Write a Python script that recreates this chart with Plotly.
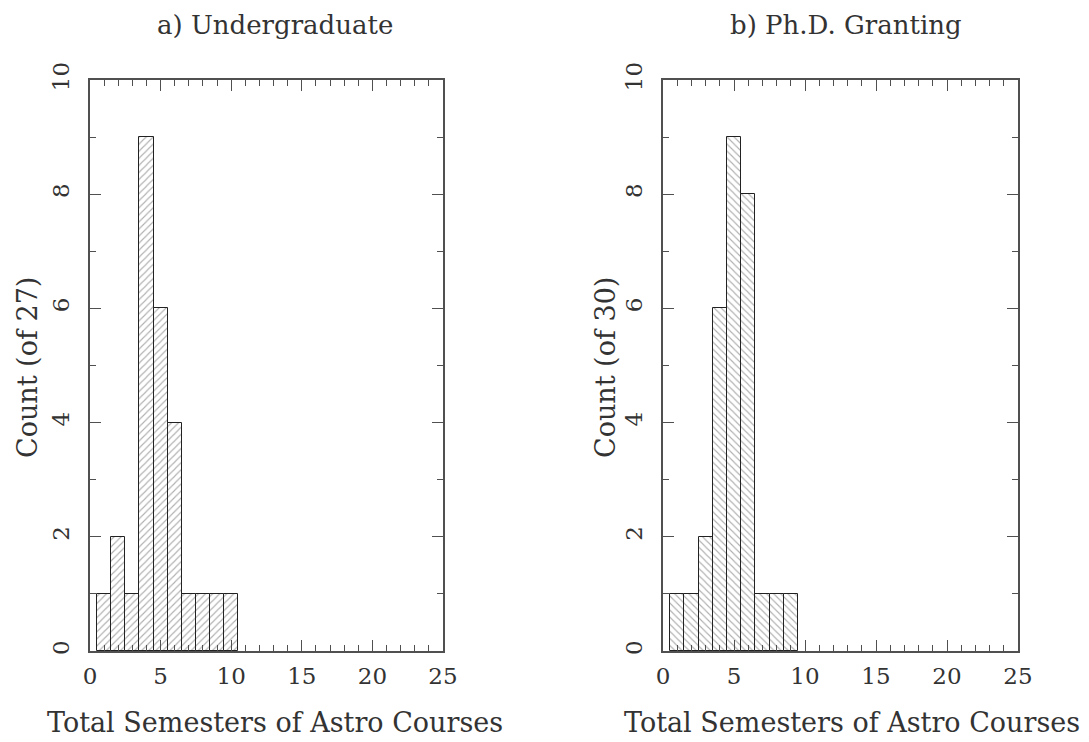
import plotly.graph_objects as go

# Data
semesters_a = [1, 2, 3, 4, 5, 6, 7, 8, 9, 10]
counts_a = [1, 2, 1, 9, 6, 4, 1, 1, 1, 1]
semesters_b = [1, 2, 3, 4, 5, 6, 7, 8, 9]
counts_b = [1, 1, 2, 6, 9, 8, 1, 1, 1]

title_a = "a) Undergraduate"
title_b = "b) Ph.D. Granting"
xlabel = "Total Semesters of Astro Courses"
ylabel_a = "Count (of 27)"
ylabel_b = "Count (of 30)"

FONT = "DejaVu Serif"
TXT = "#333333"
LINE = "#505050"

fig = go.Figure()

fig.add_trace(go.Bar(
    x=semesters_a, y=counts_a, width=1, xaxis="x", yaxis="y",
    marker=dict(color="white",
                line=dict(color="#222222", width=1),
                pattern=dict(shape="/", fgcolor="#606060", bgcolor="white",
                             size=5, solidity=0.22)),
    showlegend=False))
fig.add_trace(go.Bar(
    x=semesters_b, y=counts_b, width=1, xaxis="x2", yaxis="y2",
    marker=dict(color="white",
                line=dict(color="#222222", width=1),
                pattern=dict(shape="\\", fgcolor="#606060", bgcolor="white",
                             size=5, solidity=0.22)),
    showlegend=False))

# page body has an 8px margin: map window pixels to figure paper coords
OFF = 8
W, H = 1089 - OFF, 742 - OFF

def px(x):
    return (x - OFF) / W

def py(y):
    return 1 - (y - OFF) / H

ydom = [py(651), py(80)]

def xaxis(dom, anchor):
    return dict(domain=dom, anchor=anchor, range=[0, 25], tickvals=[0, 5, 10, 15, 20, 25],
                ticks="inside", ticklen=11, tickwidth=1.2, tickcolor=LINE,
                minor=dict(dtick=1, ticks="inside", ticklen=6, tickwidth=1, tickcolor=LINE),
                showline=True, linecolor=LINE, linewidth=1.5, mirror="ticks",
                showgrid=False, zeroline=False, automargin=False, fixedrange=True,
                tickfont=dict(family=FONT, size=23, color=TXT), ticklabelstandoff=4)

def yaxis(anchor):
    return dict(domain=ydom, anchor=anchor, range=[0, 10], tickvals=[0, 2, 4, 6, 8, 10],
                ticks="inside", ticklen=11, tickwidth=1.2, tickcolor=LINE,
                minor=dict(dtick=1, ticks="inside", ticklen=6, tickwidth=1, tickcolor=LINE),
                showline=True, linecolor=LINE, linewidth=1.5, mirror="ticks",
                showgrid=False, zeroline=False, tickangle=-90, automargin=False, fixedrange=True,
                tickfont=dict(family=FONT, size=23, color=TXT), ticklabelstandoff=10)

def ann(text, x, y, angle=0, size=26):
    return dict(text=text, x=px(x), y=py(y), xref="paper", yref="paper",
                xanchor="center", yanchor="middle", showarrow=False, textangle=angle,
                font=dict(family=FONT, size=size, color=TXT))

fig.update_layout(
    width=W, height=H,
    margin=dict(l=0, r=0, t=0, b=0, autoexpand=False),
    paper_bgcolor="white", plot_bgcolor="white",
    bargap=0,
    xaxis=xaxis([px(90), px(443)], "y"),
    yaxis=yaxis("x"),
    xaxis2=xaxis([px(663), px(1018)], "y2"),
    yaxis2=yaxis("x2"),
    annotations=[
        ann(title_a, 275, 25),
        ann(title_b, 846, 25),
        ann(xlabel, 275, 722, size=27),
        ann(xlabel, 852, 722, size=27),
        ann(ylabel_a, 27, 368, -90, size=27),
        ann(ylabel_b, 605, 368, -90, size=27),
    ],
)

fig.write_html("out.html")
